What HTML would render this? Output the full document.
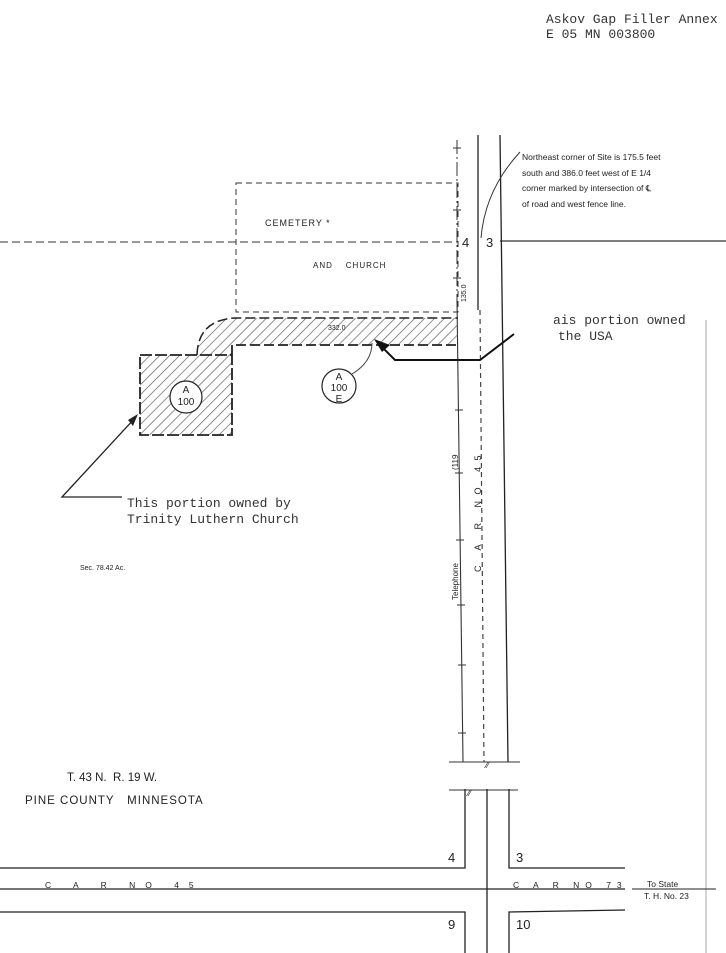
<!DOCTYPE html>
<html><head><meta charset="utf-8"><style>
html,body{margin:0;padding:0;background:#fff;}
svg{display:block;}
text{font-family:"Liberation Sans",sans-serif;fill:#222;}
.m{font-family:"Liberation Mono",monospace;fill:#333;}
</style></head><body>
<svg width="726" height="953" viewBox="0 0 726 953" xmlns="http://www.w3.org/2000/svg">
<defs>
<pattern id="h" width="7" height="7" patternUnits="userSpaceOnUse" patternTransform="rotate(45)">
<line x1="0" y1="0" x2="0" y2="7" stroke="#555" stroke-width="1.3"/>
</pattern>
</defs>
<rect width="726" height="953" fill="#fff"/>
<text class="m" x="546" y="23" font-size="13">Askov Gap Filler Annex</text>
<text class="m" x="546" y="38" font-size="13">E 05 MN 003800</text>

<!-- section line -->
<line x1="0" y1="242" x2="458" y2="242" stroke="#333" stroke-width="1" stroke-dasharray="8,4"/>
<line x1="500" y1="241" x2="726" y2="241" stroke="#333" stroke-width="1.2"/>
<line x1="706" y1="320" x2="706" y2="953" stroke="#aaa" stroke-width="1"/>

<!-- vertical road upper -->
<line x1="457" y1="140" x2="457" y2="300" stroke="#333" stroke-width="1" stroke-dasharray="14,3,2,3"/>
<line x1="457" y1="300" x2="463" y2="762" stroke="#333" stroke-width="1.1"/>
<line x1="478" y1="135" x2="478" y2="310" stroke="#222" stroke-width="1.3"/>
<line x1="480" y1="310" x2="484" y2="762" stroke="#444" stroke-width="1.2" stroke-dasharray="5,4"/>
<line x1="500" y1="135" x2="508" y2="762" stroke="#222" stroke-width="1.3"/>
<g stroke="#333" stroke-width="1">
<line x1="453" y1="148" x2="461" y2="148"/><line x1="453" y1="210" x2="461" y2="210"/>
<line x1="453" y1="278" x2="461" y2="278"/><line x1="455" y1="410" x2="463" y2="410"/>
<line x1="455" y1="473" x2="463" y2="473"/>
<line x1="456" y1="540" x2="464" y2="540"/><line x1="457" y1="605" x2="465" y2="605"/>
<line x1="458" y1="665" x2="466" y2="665"/><line x1="458" y1="733" x2="466" y2="733"/>
<line x1="449" y1="762" x2="520" y2="762"/>
<line x1="449" y1="790" x2="518" y2="790"/>
</g>
<text x="486" y="768" font-size="9">⁄⁄</text>
<text x="468" y="796" font-size="9">⁄⁄</text>

<!-- cemetery box -->
<rect x="236" y="183" width="222" height="129" fill="none" stroke="#333" stroke-width="1" stroke-dasharray="6,4"/>
<text x="265" y="226" font-size="9" letter-spacing="1">CEMETERY *</text>
<text x="313" y="268" font-size="8" letter-spacing="1">AND &#160;&#160;&#160;CHURCH</text>
<text x="0" y="0" font-size="7" transform="translate(466,302) rotate(-90)">135.0</text>
<text x="462" y="247" font-size="13">4</text>
<text x="486" y="247" font-size="13">3</text>

<!-- hatched strip -->
<path d="M232,355 L232,345 L458,345 L458,318 L235,318 Q198,320 197,355 Z" fill="url(#h)" stroke="none"/>
<path d="M232,355 L232,345 L458,345" fill="none" stroke="#222" stroke-width="1.8" stroke-dasharray="10,4"/>
<path d="M197,355 Q198,320 235,318 L458,318" fill="none" stroke="#222" stroke-width="1.5" stroke-dasharray="10,4"/>
<text x="328" y="330" font-size="7">332.0</text>
<rect x="140" y="355" width="92" height="80" fill="url(#h)" stroke="#222" stroke-width="1.8" stroke-dasharray="12,3"/>
<circle cx="186" cy="397" r="16" fill="#fff" stroke="#222" stroke-width="1.2"/>
<text x="186" y="393" font-size="10" text-anchor="middle">A</text>
<text x="186" y="405" font-size="10" text-anchor="middle">100</text>
<circle cx="339" cy="386" r="17" fill="#fff" stroke="#222" stroke-width="1.2"/>
<text x="339" y="380" font-size="10" text-anchor="middle">A</text>
<text x="339" y="391" font-size="10" text-anchor="middle">100</text>
<text x="339" y="402" font-size="10" text-anchor="middle">E</text>
<path d="M352,374 Q372,362 372,343" fill="none" stroke="#444" stroke-width="1"/>

<polyline points="514,334 480,360 395,360 380,345" fill="none" stroke="#111" stroke-width="2"/>
<path d="M374,339 L390,345 L382,352 Z" fill="#111"/>
<polyline points="122,497 62,497 135,418" fill="none" stroke="#222" stroke-width="1.3"/>
<path d="M138,414 L128,420 L133,426 Z" fill="#222"/>
<path d="M520,152 Q485,190 481,238" fill="none" stroke="#333" stroke-width="1"/>

<text x="522" y="160" font-size="8.5">Northeast corner of Site is 175.5 feet</text>
<text x="522" y="176" font-size="8.5">south and 386.0 feet west of E 1/4</text>
<text x="522" y="191" font-size="8.5">corner marked by intersection of ℄</text>
<text x="522" y="207" font-size="8.5">of road and west fence line.</text>

<text class="m" x="553" y="324" font-size="13">ais portion owned</text>
<text class="m" x="558" y="340" font-size="13">the USA</text>
<text class="m" x="127" y="507" font-size="13">This portion owned by</text>
<text class="m" x="127" y="523" font-size="13">Trinity Luthern Church</text>

<text x="80" y="570" font-size="7">Sec. 78.42 Ac.</text>
<text x="0" y="0" font-size="8" transform="translate(458,600) rotate(-90)">Telephone</text>
<text x="0" y="0" font-size="8" transform="translate(458,470) rotate(-90)">(119</text>
<text x="0" y="0" font-size="9" letter-spacing="6.5" transform="translate(481,572) rotate(-90)">C A R NO 45</text>

<text x="67" y="781" font-size="11.5">T. 43 N.&#160;&#160;R. 19 W.</text>
<text x="25" y="804" font-size="11.5" letter-spacing="1">PINE COUNTY&#160;&#160;&#160;MINNESOTA</text>

<g stroke="#222" stroke-width="1.3" fill="none">
<polyline points="0,868 465,868 465,789"/>
<line x1="487" y1="789" x2="487" y2="953"/>
<polyline points="509,789 509,868 625,868"/>
<line x1="0" y1="889" x2="625" y2="889"/>
<polyline points="0,912 465,912 465,953"/>
<polyline points="509,953 509,912 625,910"/>
</g>
<text x="448" y="862" font-size="13">4</text>
<text x="516" y="862" font-size="13">3</text>
<text x="448" y="929" font-size="13">9</text>
<text x="516" y="929" font-size="13">10</text>
<text x="45" y="888" font-size="8.5" letter-spacing="10">C A R NO 45</text>
<text x="513" y="888" font-size="8.5" letter-spacing="6">C A R NO 73</text>
<text x="647" y="887" font-size="8.5">To State</text>
<line x1="632" y1="889" x2="716" y2="889" stroke="#222" stroke-width="1"/>
<text x="644" y="899" font-size="8.5">T. H. No. 23</text>
</svg>
</body></html>
